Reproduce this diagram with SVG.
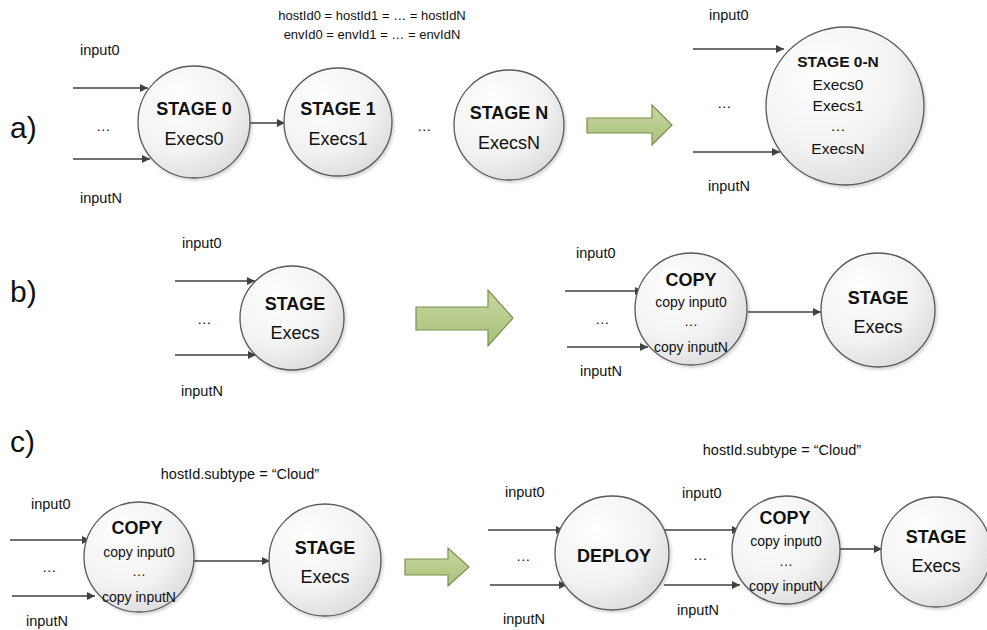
<svg xmlns="http://www.w3.org/2000/svg" width="987" height="630" viewBox="0 0 987 630">
  <defs>
    <radialGradient id="nodeFill" cx="0.35" cy="0.3" r="0.8">
      <stop offset="0" stop-color="#ffffff"/>
      <stop offset="0.6" stop-color="#f2f2f2"/>
      <stop offset="1" stop-color="#d9d9d9"/>
    </radialGradient>
    <linearGradient id="bigArrowFill" x1="0" y1="0" x2="0" y2="1">
      <stop offset="0" stop-color="#c8d8a0"/>
      <stop offset="1" stop-color="#a9c07a"/>
    </linearGradient>
    <filter id="shadow" x="-20%" y="-20%" width="140%" height="140%">
      <feDropShadow dx="1.5" dy="2" stdDeviation="1.5" flood-color="#000" flood-opacity="0.18"/>
    </filter>
    <marker id="arrowHead" viewBox="0 0 10 10" refX="10" refY="5" markerWidth="11" markerHeight="8" markerUnits="userSpaceOnUse" orient="auto">
      <path d="M0,0 L10,5 L0,10 Z" fill="#404040"/>
    </marker>
  </defs>
  <style>
    .node { fill: url(#nodeFill); stroke: #5a5a5a; stroke-width: 1.3; filter: url(#shadow); }
    .edge { stroke: #404040; stroke-width: 1.4; fill: none; marker-end: url(#arrowHead); }
    .big { fill: url(#bigArrowFill); stroke: #7a8f4f; stroke-width: 1.2; }
    text { font-family: "Liberation Sans", Arial, sans-serif; fill: #111111; }
    .title { font-weight: bold; font-size: 18px; text-anchor: middle; }
    .sub { font-size: 18px; text-anchor: middle; }
    .small { font-size: 14px; text-anchor: middle; }
    .mid { font-size: 15.5px; text-anchor: middle; }
    .note { font-size: 13px; text-anchor: middle; }
    .cloud { font-size: 14.5px; text-anchor: middle; }
    .lbl { font-size: 14.5px; }
    .part { font-size: 30px; }
  </style>

  <rect width="987" height="630" fill="#ffffff"/>

  <!-- section labels -->
  <text class="part" x="10" y="138">a)</text>
  <text class="part" x="10" y="302">b)</text>
  <text class="part" x="10" y="452">c)</text>

  <!-- constraint notes -->
  <text class="note" x="372" y="20">hostId0 = hostId1 = … = hostIdN</text>
  <text class="note" x="372" y="39">envId0 = envId1 = … = envIdN</text>
  <text class="cloud" x="240" y="479">hostId.subtype = “Cloud”</text>
  <text class="cloud" x="782" y="455">hostId.subtype = “Cloud”</text>

  <!-- input labels -->
  <g class="lbl">
    <text x="80" y="55">input0</text>
    <text x="96" y="131">…</text>
    <text x="80" y="203">inputN</text>
    <text x="417" y="131">…</text>

    <text x="709" y="20">input0</text>
    <text x="717" y="108">…</text>
    <text x="708" y="191">inputN</text>

    <text x="182" y="248">input0</text>
    <text x="197" y="324">…</text>
    <text x="181" y="396">inputN</text>

    <text x="576" y="258">input0</text>
    <text x="595" y="324">…</text>
    <text x="580" y="376">inputN</text>

    <text x="31" y="509">input0</text>
    <text x="42" y="572">…</text>
    <text x="26" y="626">inputN</text>

    <text x="505" y="497">input0</text>
    <text x="516" y="561">…</text>
    <text x="503" y="624">inputN</text>

    <text x="682" y="498">input0</text>
    <text x="693" y="560">…</text>
    <text x="677" y="615">inputN</text>
  </g>

  <!-- transformation arrows -->
  <path class="big" d="M587,118 H652 V105 L672,125 L652,145 V133 H587 Z"/>
  <path class="big" d="M416,307 H488 V290 L513,318 L488,346 V330 H416 Z"/>
  <path class="big" d="M405,559 H448 V548 L469,567 L448,586 V575 H405 Z"/>

  <!-- connectors -->
  <g id="connectors">
    <line class="edge" x1="73" y1="88" x2="148" y2="88"/>
    <line class="edge" x1="73" y1="159" x2="150" y2="159"/>
    <line class="edge" x1="250" y1="123" x2="285" y2="123"/>

    <line class="edge" x1="693" y1="49" x2="784" y2="49"/>
    <line class="edge" x1="693" y1="152" x2="780" y2="152"/>

    <line class="edge" x1="175" y1="281" x2="255" y2="281"/>
    <line class="edge" x1="175" y1="355" x2="256" y2="355"/>

    <line class="edge" x1="565" y1="291" x2="643" y2="291"/>
    <line class="edge" x1="567" y1="347" x2="648" y2="347"/>
    <line class="edge" x1="748" y1="312" x2="821" y2="312"/>

    <line class="edge" x1="10" y1="540" x2="90" y2="540"/>
    <line class="edge" x1="12" y1="596" x2="95" y2="596"/>
    <line class="edge" x1="193" y1="561" x2="270" y2="561"/>

    <line class="edge" x1="488" y1="530" x2="564" y2="530"/>
    <line class="edge" x1="490" y1="585" x2="567" y2="585"/>
    <line class="edge" x1="664" y1="530" x2="740" y2="530"/>
    <line class="edge" x1="664" y1="585" x2="740" y2="585"/>
    <line class="edge" x1="840" y1="549" x2="882" y2="549"/>
  </g>

  <!-- a) before -->
  <g id="stage0">
    <circle class="node" cx="194" cy="122" r="56"/>
    <text class="title" x="194" y="115">STAGE 0</text>
    <text class="sub" x="194" y="145">Execs0</text>
  </g>
  <g id="stage1">
    <circle class="node" cx="338" cy="122" r="54"/>
    <text class="title" x="338" y="115">STAGE 1</text>
    <text class="sub" x="338" y="145">Execs1</text>
  </g>
  <g id="stageN">
    <circle class="node" cx="509" cy="125" r="55"/>
    <text class="title" x="509" y="119">STAGE N</text>
    <text class="sub" x="509" y="149">ExecsN</text>
  </g>

  <!-- a) after -->
  <g id="stage0N">
    <circle class="node" cx="845" cy="106" r="79"/>
    <text class="mid" x="838" y="67" font-weight="bold">STAGE 0-N</text>
    <text class="mid" x="838" y="90">Execs0</text>
    <text class="mid" x="838" y="111">Execs1</text>
    <text class="mid" x="838" y="131">…</text>
    <text class="mid" x="838" y="154">ExecsN</text>
  </g>

  <!-- b) before -->
  <g id="stageB">
    <circle class="node" cx="292" cy="318" r="52"/>
    <text class="title" x="295" y="310">STAGE</text>
    <text class="sub" x="295" y="339">Execs</text>
  </g>

  <!-- b) after -->
  <g id="copyB">
    <circle class="node" cx="691" cy="309" r="56"/>
    <text class="title" x="691" y="286">COPY</text>
    <text class="small" x="691" y="307">copy input0</text>
    <text class="small" x="691" y="326">…</text>
    <text class="small" x="691" y="352">copy inputN</text>
  </g>
  <g id="stageB2">
    <circle class="node" cx="878" cy="310" r="57"/>
    <text class="title" x="878" y="304">STAGE</text>
    <text class="sub" x="878" y="333">Execs</text>
  </g>

  <!-- c) before -->
  <g id="copyC">
    <circle class="node" cx="139" cy="557" r="55"/>
    <text class="title" x="137" y="534">COPY</text>
    <text class="small" x="139" y="557">copy input0</text>
    <text class="small" x="139" y="576">…</text>
    <text class="small" x="139" y="602">copy inputN</text>
  </g>
  <g id="stageC">
    <circle class="node" cx="325" cy="560" r="56"/>
    <text class="title" x="325" y="554">STAGE</text>
    <text class="sub" x="325" y="583">Execs</text>
  </g>

  <!-- c) after -->
  <g id="deploy">
    <circle class="node" cx="612" cy="553" r="57"/>
    <text class="title" x="614" y="562" font-size="19">DEPLOY</text>
  </g>
  <g id="copyC2">
    <circle class="node" cx="786" cy="550" r="54"/>
    <text class="title" x="785" y="524">COPY</text>
    <text class="small" x="786" y="546">copy input0</text>
    <text class="small" x="786" y="566">…</text>
    <text class="small" x="786" y="591">copy inputN</text>
  </g>
  <g id="stageC2">
    <circle class="node" cx="936" cy="552" r="55"/>
    <text class="title" x="936" y="543">STAGE</text>
    <text class="sub" x="936" y="572">Execs</text>
  </g>
</svg>
